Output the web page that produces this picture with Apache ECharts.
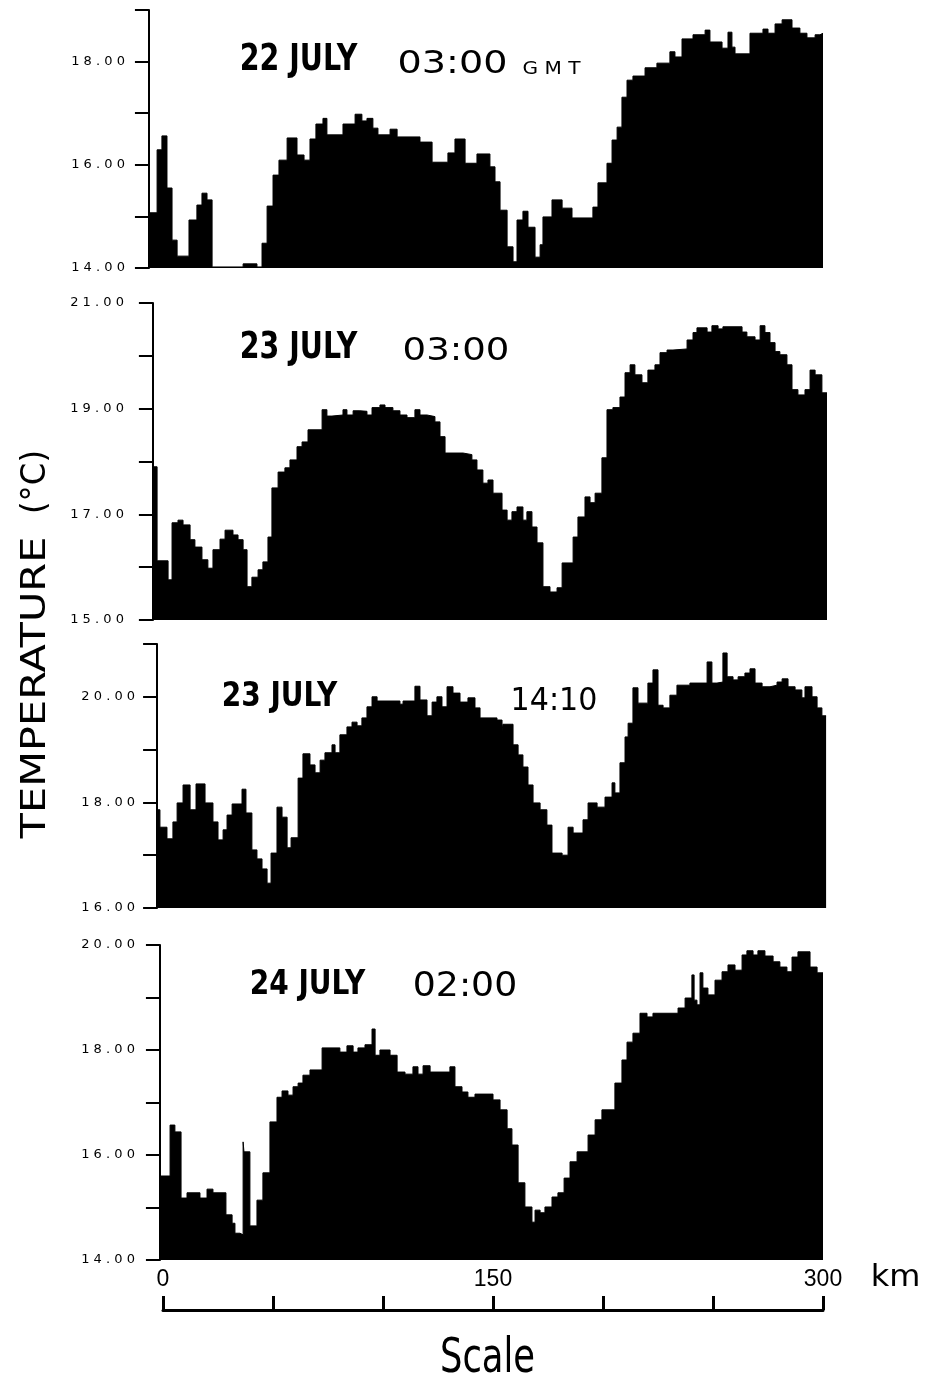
<!DOCTYPE html>
<html>
<head>
<meta charset="utf-8">
<script src="https://cdn.jsdelivr.net/npm/echarts@6/dist/echarts.min.js"></script>
<style>html,body{margin:0;padding:0;background:#fff}#c{width:930px;height:1381px}</style>
</head>
<body>
<div id="c"></div>
<script>
// ---------------- DATA (distance along track in km, temperature in °C) ----------------
// 22 JULY 03:00 GMT
const km1 = [-7.3,-3.6,-1.4,0.9,3.2,5.5,10.9,14.5,16.8,19.1,21.4,35.5,41.8,44.1,46.4,49.1,51.8,55.5,60.0,63.2,65.9,68.6,71.8,73.6,80.9,86.4,89.5,91.8,94.5,96.8,102.3,105.5,115.9,121.4,128.6,131.8,136.4,141.8,147.7,150,152.3,155.5,158.2,160,162.7,165,168.2,170.5,171.8,175.9,180.5,185,194.5,196.8,200.9,203.2,205.5,207.7,210,212.7,218.2,223.6,229.5,231.8,235,240,245.5,247.7,253.2,255.9,257.7,259.1,265.9,271.8,274.1,277.3,280.5,285,288.6,291.8,295.5,297.7,299.1];
const temp1 = [15.07,16.29,16.56,15.55,14.54,14.23,14.93,15.22,15.45,15.32,14.02,14.08,14.02,14.48,15.2,15.8,16.09,16.52,16.19,16.09,16.5,16.79,16.9,16.58,16.79,16.98,16.85,16.9,16.71,16.58,16.69,16.54,16.44,16.05,16.23,16.5,16.03,16.21,15.96,15.67,15.12,14.41,14.12,14.93,15.1,14.79,14.21,14.45,14.99,15.32,15.16,14.97,15.18,15.65,16.03,16.48,16.73,17.31,17.64,17.72,17.88,17.97,18.19,18.09,18.44,18.52,18.61,18.38,18.26,18.57,18.28,18.15,18.55,18.63,18.55,18.73,18.81,18.65,18.55,18.46,18.52,18.55,18.55];
// 23 JULY 03:00
const km2 = [-5.5,-3.6,1.4,3.2,5.9,8.2,11.4,13.6,16.8,19.5,21.8,25.0,27.3,30.9,33.2,35.5,37.3,39.5,42.3,44.5,46.8,48.6,51.4,54.5,56.8,60.0,62.3,65.0,71.4,73.6,75.9,80.9,82.7,85.5,88.6,91.8,94.1,97.7,100,103.6,106.8,110,113.6,115.9,119.1,122.7,125,127.3,135.5,139.5,141.8,144.5,146.8,149.1,153.2,155.5,157.7,160,162.7,164.5,166.8,169.1,171.8,175,178.2,180.5,185.5,187.7,190.9,193.2,195.5,198.6,200.9,203.6,206.8,209.1,211.4,213.6,216.8,219.5,222.7,225,228.2,230.9,237.3,240,241.8,246.4,248.6,251.4,253.6,262.3,264.5,268.2,270.5,272.7,275,277.3,279.5,282.7,285,287.7,290.9,293.2,295.5,298.6,300.9];
const temp2 = [17.9,16.12,15.76,16.84,16.89,16.8,16.52,16.38,16.14,15.98,16.33,16.53,16.7,16.61,16.52,16.33,15.63,15.81,15.95,16.1,16.57,17.5,17.8,17.88,18.03,18.28,18.37,18.6,18.98,18.86,18.88,18.98,18.88,18.96,18.95,18.88,19.02,19.07,19.02,18.96,18.88,18.83,18.98,18.88,18.85,18.75,18.47,18.16,18.13,18.03,17.84,17.59,17.65,17.4,17.08,16.89,17.05,17.14,16.89,17.05,16.76,16.46,15.63,15.53,15.61,16.08,16.57,16.95,17.33,17.22,17.4,18.07,18.98,19.02,19.22,19.68,19.83,19.64,19.49,19.73,19.83,20.06,20.11,20.13,20.3,20.44,20.53,20.45,20.57,20.51,20.55,20.45,20.36,20.3,20.57,20.44,20.25,20.08,20.02,19.83,19.36,19.26,19.36,19.73,19.64,19.3,19.3];
// 23 JULY 14:10
const km3 = [-3.6,-2.3,0.9,3.6,5.5,8.2,11.4,14.1,18.2,21.8,24.1,26.4,28.2,30.5,35,36.8,39.5,41.8,44.1,46.4,48.2,50.9,53.2,55.5,57.3,60.5,62.7,65.9,68.2,70.5,72.7,75.9,77.3,79.5,82.7,85,87.3,89.5,91.8,94.1,96.4,106.8,108.2,113.6,115.9,119.1,121.4,123.6,125.9,128.2,130.9,134.1,137.7,140.9,143.2,150.9,153.2,153.6,158.2,160.5,162.7,165,167.3,170.5,173.6,175.9,180.5,183.2,185.5,190,192.3,196.4,200,203.2,204.5,206.8,209.1,210.5,212.7,215,219.5,221.8,224.1,226.4,229.5,232.7,238.6,246.4,248.6,250.9,253.6,255.5,258.2,260.5,263.6,265.9,268.2,271.4,275,278.2,280.5,283.2,286.4,289.5,290.9,294.1,296.4,298.6,300.5];
const temp3 = [17.86,17.53,17.31,17.63,17.99,18.33,17.86,18.35,17.99,17.63,17.29,17.48,17.76,17.97,18.25,17.8,17.1,16.93,16.74,16.47,17.04,17.91,17.72,17.14,17.33,18.46,18.92,18.71,18.56,18.8,18.94,19.09,18.94,19.28,19.43,19.52,19.45,19.6,19.81,20.0,19.92,19.86,19.92,20.2,19.94,19.64,19.9,20.0,19.81,20.19,20.07,19.9,19.98,19.79,19.6,19.56,19.35,19.48,19.09,18.9,18.67,18.33,17.99,17.86,17.57,17.04,17.0,17.53,17.42,17.67,17.99,17.91,18.1,18.37,18.18,18.75,19.24,19.5,20.17,19.88,20.26,20.51,19.84,19.79,20.03,20.22,20.26,20.66,20.26,20.28,20.83,20.38,20.32,20.38,20.45,20.53,20.26,20.19,20.22,20.28,20.34,20.19,20.13,19.98,20.19,20.0,19.79,19.64,19.64];
// 24 JULY 02:00
const km4 = [-2.3,2.3,4.5,7.3,10,15.9,19.1,21.8,27.7,30.5,31.8,34.1,35.5,35.9,38.6,41.8,44.5,47.7,50.9,53.2,55.9,58.2,60.5,62.7,65.9,71.4,79.5,82.7,85.5,87.7,90.9,94.1,95.5,97.7,102.3,105.5,109.1,112.7,115,117.3,120.5,129.5,131.8,135,137.7,140.9,149.1,152.3,155.5,157.7,160.5,163.6,166.8,168.2,170.5,172.7,175.9,178.6,181.4,184.1,187.3,192.3,195.5,198.6,204.5,207.7,210,212.7,215.9,219.1,221.8,233.2,236.4,239.5,240.5,241.8,243.2,244.5,246.8,250,253.2,255.9,259.1,262.3,264.5,267.3,269.5,272.7,276.4,279.5,282.7,285,287.7,293.2,296.4,299.1];
const temp4 = [15.6,16.57,16.44,15.18,15.28,15.18,15.35,15.28,14.86,14.7,14.51,14.48,16.25,16.06,14.65,15.14,15.66,16.63,17.1,17.22,17.14,17.3,17.37,17.52,17.62,18.04,17.96,18.08,17.96,18.04,18.1,18.4,17.9,18.0,17.9,17.58,17.54,17.68,17.54,17.7,17.58,17.68,17.3,17.2,17.1,17.16,17.05,16.86,16.5,16.19,15.47,15.01,14.72,14.95,14.9,15.01,15.2,15.28,15.56,15.87,16.06,16.38,16.67,16.86,17.37,17.81,18.15,18.32,18.7,18.63,18.7,18.8,18.99,19.43,18.95,18.86,19.47,19.18,19.05,19.33,19.49,19.62,19.52,19.81,19.89,19.81,19.89,19.79,19.68,19.58,19.49,19.77,19.87,19.58,19.47,19.47];

// y-axis ranges (°C) per panel
const yMin = [14, 15, 16, 14];
const yMax = [19, 21, 21, 20];
// panel labels
const dayLabels = ['22 JULY', '23 JULY', '23 JULY', '24 JULY'];
const timeLabels = ['03:00', '03:00', '14:10', '02:00'];
// scale bar
const scaleMin = 0, scaleMax = 300, scaleStep = 50, scaleLabelStep = 150;

// ---------------- LAYOUT ----------------
const KM_X0 = 165, KM_PX = 2.2;          // pixel of km 0 and pixels per km for panels
const panelTop = [10, 303, 644, 945];
const panelBottom = [268, 620, 908, 1260];
const labelMargin = [24, 29, 22, 25];
const dayPos = [[298.5, 60.5, 117, 27], [298.5, 348.5, 117, 27], [279.5, 697.5, 115, 25], [307.5, 985.5, 115, 25]];
const timePos = [[452.5, 64.5, 105, 23], [456, 351.5, 102, 23], [554, 701.5, 82, 23], [465, 987.5, 100, 24]];

const kms = [km1, km2, km3, km4];
const temps = [temp1, temp2, temp3, temp4];
const FONT = "'DejaVu Sans'";

const ctx = document.createElement('canvas').getContext('2d');
function fitText(str, cx, cy, w, capH, weight, rot) {
  const fs = capH / 0.729;
  const font = weight + ' ' + fs.toFixed(2) + 'px ' + FONT;
  ctx.font = font;
  const m = ctx.measureText(str);
  const ink = (m.actualBoundingBoxLeft + m.actualBoundingBoxRight) || m.width;
  return {
    type: 'text', x: cx, y: cy, rotation: rot || 0, scaleX: w / ink, scaleY: 1, silent: true,
    style: { text: str, font: font, fill: '#000', align: 'center', verticalAlign: 'middle',
             textAlign: 'center', textVerticalAlign: 'middle' }
  };
}
function spaced(s) { return s.split('').join(' '); }

const grids = [], xAxes = [], yAxes = [], series = [];
for (let i = 0; i < 4; i++) {
  const km = kms[i], t = temps[i];
  const x0 = km[0], x1 = km[km.length - 1];
  grids.push({ left: KM_X0 + KM_PX * x0, width: KM_PX * (x1 - x0), top: panelTop[i],
               height: panelBottom[i] - panelTop[i], outerBoundsMode: 'none', containLabel: false });
  xAxes.push({ gridIndex: i, type: 'value', min: x0, max: x1, show: false });
  const mn = yMin[i];
  yAxes.push({
    gridIndex: i, type: 'value', min: yMin[i], max: yMax[i], interval: 1, position: 'left',
    axisLine: { show: true, onZero: false, lineStyle: { color: '#000', width: 2 } },
    axisTick: { show: true, length: 14, lineStyle: { color: '#000', width: 2 } },
    splitLine: { show: false },
    axisLabel: { show: true, margin: labelMargin[i], color: '#000', fontSize: 13, fontFamily: FONT,
      formatter: v => (Math.round(v - mn) % 2 === 0 ? spaced(v.toFixed(2)) : '') }
  });
  series.push({
    type: 'line', xAxisIndex: i, yAxisIndex: i, step: 'end', symbol: 'none', silent: true,
    data: km.map((k, j) => [k, t[j]]),
    lineStyle: { color: '#000', width: 1 },
    itemStyle: { color: '#000' },
    areaStyle: { color: '#000', opacity: 1, origin: 'start' }
  });
}
// scale bar (km)
grids.push({ left: 163, width: 660, top: 1270, height: 40, outerBoundsMode: 'none', containLabel: false });
xAxes.push({
  gridIndex: 4, type: 'value', min: scaleMin, max: scaleMax, interval: scaleStep, position: 'bottom',
  axisLine: { show: true, onZero: false, lineStyle: { color: '#000', width: 3 } },
  axisTick: { show: true, inside: true, length: 14, lineStyle: { color: '#000', width: 3 } },
  splitLine: { show: false },
  axisLabel: { show: true, inside: true, margin: 19, color: '#000', fontSize: 23, fontFamily: "'Liberation Sans'",
    formatter: v => (v % scaleLabelStep === 0 ? String(v) : '') }
});
yAxes.push({ gridIndex: 4, type: 'value', min: 0, max: 1, show: false });
series.push({ type: 'line', xAxisIndex: 4, yAxisIndex: 4, data: [], symbol: 'none' });

const graphics = [];
for (let i = 0; i < 4; i++) {
  const d = dayPos[i], tp = timePos[i];
  graphics.push(fitText(dayLabels[i], d[0], d[1], d[2], d[3], 'bold'));
  graphics.push(fitText(timeLabels[i], tp[0], tp[1], tp[2], tp[3], 'normal'));
}
graphics.push(fitText('G M T', 551.5, 69.5, 57, 13, 'normal'));
graphics.push(fitText('TEMPERATURE', 36, 687.5, 301, 25, 'normal', Math.PI / 2));
graphics.push(fitText('(°C)', 36, 482, 60, 25, 'normal', Math.PI / 2));
graphics.push(fitText('Scale', 487.5, 1359.5, 91, 35, 'normal'));
graphics.push(fitText('km', 895.5, 1278.5, 45, 22, 'normal'));

const chart = echarts.init(document.getElementById('c'), null, { renderer: 'canvas' });
chart.setOption({
  backgroundColor: '#fff',
  animation: false,
  grid: grids, xAxis: xAxes, yAxis: yAxes, series: series,
  graphic: { elements: graphics }
});
</script>
</body>
</html>
